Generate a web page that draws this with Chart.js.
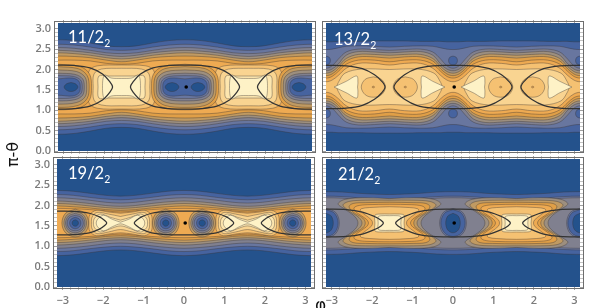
<!DOCTYPE html>
<html>
<head>
<meta charset="utf-8">
<script src="https://cdn.jsdelivr.net/npm/chart.js@4"></script>
<style>
  html, body { margin: 0; padding: 0; background: #fff; overflow: hidden; }
  body { position: relative; width: 598px; height: 308px; }
  canvas { position: absolute; filter: blur(0.35px); }
  .tag { position: absolute; color: #fff; font: 16.5px Lato, sans-serif; line-height: 20px; }
  .tag sub { font-size: 10.5px; line-height: 0; }
  .axisName { position: absolute; color: #111; font-family: "DejaVu Sans", sans-serif; white-space: nowrap; }
</style>
</head>
<body>
<canvas id="p1"></canvas>
<canvas id="p2"></canvas>
<canvas id="p3"></canvas>
<canvas id="p4"></canvas>
<div class="tag" style="left:68px;top:27px">11/2<sub>2</sub></div>
<div class="tag" style="left:334px;top:29px">13/2<sub>2</sub></div>
<div class="tag" style="left:68px;top:163px">19/2<sub>2</sub></div>
<div class="tag" style="left:338px;top:164px">21/2<sub>2</sub></div>
<div class="axisName" style="left:0px;top:145px;font-size:16px;transform:rotate(-90deg)">π-θ</div>
<div class="axisName" style="left:315px;top:295px;font-size:17px">φ</div>
<script>
"use strict";

const PI = Math.PI;
const MID = 1.57;

// ---------- Axes ----------
const xTickLabels = [-3, -2, -1, 0, 1, 2, 3];
const yTickLabels = [0, 0.5, 1, 1.5, 2, 2.5, 3];

// ---------- Contour levels, low to high ----------
const levelColors = ["#24528c", "#46639f", "#68769f", "#80808f", "#9d8f7f", "#c09a62",
  "#e09f47", "#eeaa52", "#f5c172", "#f9d491", "#fde6ae", "#fef2c6"];

// phi positions for the bands (from 0 to pi/2) and height above mid line at each
const bandStops = [0, 0.4, 0.8, 1.2, 1.57];
const neckStops = [0, 0.15, 0.3, 0.5, 0.8, 1.2, 1.57];

const zeroAndPi = [-PI, 0, PI];
const halfPi = [-PI / 2, PI / 2];

// ---------- 11/2 ----------
const p1Bands = [
  { level: 1, h: [1.16, 1.14, 1.08, 1.01, 0.99] },
  { level: 2, h: [1.05, 1.03, 0.98, 0.92, 0.90] },
  { level: 3, h: [0.97, 0.95, 0.90, 0.84, 0.82] },
  { level: 4, h: [0.90, 0.88, 0.84, 0.78, 0.75] },
  { level: 5, h: [0.84, 0.82, 0.78, 0.72, 0.69] },
  { level: 6, h: [0.76, 0.75, 0.72, 0.66, 0.62] },
  { level: 7, h: [0.66, 0.66, 0.64, 0.58, 0.56] }
];
const p1Lobes = [
  { level: 8, arc: [[0, 0.54], [0.6, 0.52], [0.8, 0.40], [0.84, 0]] },
  { level: 9, arc: [[0, 0.46], [0.5, 0.44], [0.68, 0.32], [0.70, 0]] },
  { level: 10, arc: [[0, 0.27], [0.35, 0.27], [0.56, 0.27], [0.58, 0]] },
  { level: 11, arc: [[0, 0.21], [0.25, 0.22], [0.42, 0.29], [0.47, 0]] }
];
const p1Holes = [
  { level: 6, arc: [[0, 0.56], [0.55, 0.50], [0.78, 0.32], [0.83, 0]] },
  { level: 5, arc: [[0, 0.50], [0.50, 0.45], [0.72, 0.28], [0.77, 0]] },
  { level: 4, arc: [[0, 0.42], [0.46, 0.38], [0.67, 0.24], [0.71, 0]] },
  { level: 3, arc: [[0, 0.34], [0.42, 0.31], [0.61, 0.20], [0.65, 0]] },
  { level: 2, arc: [[0, 0.28], [0.38, 0.26], [0.56, 0.17], [0.60, 0]] },
  { level: 1, arc: [[0, 0.20], [0.36, 0.22], [0.52, 0.14], [0.55, 0]] }
];
const p1DipCenters = [-3.46, -2.82, -0.32, 0.32, 2.82, 3.46];
const p1Dips = [{ level: 0, arc: [[0, 0.11], [0.11, 0.08], [0.17, 0]] }];
const p1Ellipse = [[0, 0.54], [0.4, 0.53], [0.79, 0.47], [1.1, 0.32], [1.28, 0.13], [1.35, 0]];

// ---------- 13/2 ----------
const p2Bands = [
  { level: 1, h: [1.11, 1.11, 1.12, 1.12, 1.12, 1.13, 1.13] },
  { level: 2, h: [0.92, 0.93, 0.96, 1.0, 1.01, 1.0, 0.98] },
  { level: 3, h: [0.46, 0.52, 0.68, 0.86, 0.93, 0.92, 0.90] },
  { level: 4, h: [0.40, 0.44, 0.56, 0.78, 0.87, 0.86, 0.84] },
  { level: 5, h: [0.34, 0.38, 0.50, 0.70, 0.80, 0.80, 0.78] },
  { level: 6, h: [0.28, 0.32, 0.44, 0.64, 0.74, 0.74, 0.71] },
  { level: 7, h: [0.22, 0.26, 0.38, 0.56, 0.66, 0.66, 0.62] },
  { level: 8, h: [0.13, 0.17, 0.28, 0.46, 0.58, 0.58, 0.54] }
];
const p2Spots = [{ level: 1, arc: [[0, 0.11], [0.08, 0.08], [0.11, 0]] }];
const p2Lobes = [{ level: 9, arc: [[0, 0.43], [0.7, 0.44], [1.1, 0.34], [1.25, 0.14], [1.3, 0]] }];
const p2Rings = [
  { level: 8, arc: [[0, 0.25], [0.2, 0.19], [0.3, 0]] },
  { level: 7, arc: [[0, 0.02], [0.02, 0.015], [0.03, 0]] }
];
const p2RingCenters = [-1.97, -1.18, 1.18, 1.97];
const p2TriangleCenters = [[0, 1], [0, -1], [PI, -1], [-PI, 1]];
const p2Triangles = [
  { level: 11, path: [[0.2, 0], [0.5, 0.14], [0.76, 0.27], [0.79, 0.1], [0.78, 0]] }
];
const p2Ellipse = [[0, 0.53], [0.5, 0.52], [0.9, 0.45], [1.2, 0.30], [1.38, 0.14], [1.46, 0]];

// ---------- 19/2 ----------
const p3Bands = [
  { level: 1, h: [0.80, 0.78, 0.73, 0.68, 0.66] },
  { level: 2, h: [0.70, 0.68, 0.63, 0.59, 0.57] },
  { level: 3, h: [0.62, 0.60, 0.56, 0.51, 0.49] },
  { level: 4, h: [0.54, 0.52, 0.48, 0.43, 0.41] },
  { level: 5, h: [0.48, 0.46, 0.42, 0.38, 0.36] },
  { level: 6, h: [0.42, 0.40, 0.37, 0.33, 0.31] },
  { level: 7, h: [0.36, 0.35, 0.33, 0.30, 0.27] }
];
const p3Lobes = [
  { level: 8, arc: [[0, 0.24], [0.3, 0.27], [0.6, 0.31], [0.76, 0.2], [0.78, 0]] },
  { level: 9, arc: [[0, 0.16], [0.3, 0.22], [0.58, 0.26], [0.7, 0.15], [0.72, 0]] },
  { level: 10, arc: [[0, 0.07], [0.25, 0.14], [0.5, 0.22], [0.64, 0.12], [0.67, 0]] },
  { level: 11, arc: [[0, 0.02], [0.2, 0.09], [0.42, 0.19], [0.56, 0.1], [0.6, 0]] }
];
const p3HoleCenters = [-3.59, -2.69, -0.45, 0.45, 2.69, 3.59];
const p3Holes = [
  { level: 5, arc: [[0, 0.34], [0.24, 0.24], [0.33, 0]] },
  { level: 4, arc: [[0, 0.29], [0.2, 0.2], [0.28, 0]] },
  { level: 3, arc: [[0, 0.24], [0.17, 0.17], [0.24, 0]] },
  { level: 2, arc: [[0, 0.19], [0.14, 0.14], [0.2, 0]] },
  { level: 1, arc: [[0, 0.14], [0.1, 0.1], [0.14, 0]] },
  { level: 0, arc: [[0, 0.08], [0.055, 0.055], [0.08, 0]] }
];
const p3Ellipse = [[0, 0.29], [0.4, 0.285], [0.8, 0.24], [1.05, 0.15], [1.18, 0.06], [1.23, 0]];

// ---------- 21/2 ----------
const p4Bands = [
  { level: 1, h: [0.77, 0.76, 0.73, 0.71, 0.70] },
  { level: 2, h: [0.66, 0.65, 0.62, 0.60, 0.60] },
  { level: 3, h: [0.62, 0.61, 0.58, 0.56, 0.56] }
];
const p4Lobes = [
  { level: 4, arc: [[0, 0.60], [0.6, 0.62], [1.1, 0.58], [1.27, 0.47], [1.1, 0.34], [0.85, 0.15], [0.78, 0]] },
  { level: 5, arc: [[0, 0.56], [0.6, 0.56], [1.0, 0.53], [1.15, 0.44], [1.0, 0.30], [0.75, 0.13], [0.68, 0]] },
  { level: 6, arc: [[0, 0.51], [0.6, 0.50], [0.9, 0.48], [1.0, 0.40], [0.9, 0.27], [0.66, 0.12], [0.6, 0]] },
  { level: 7, arc: [[0, 0.46], [0.55, 0.45], [0.8, 0.42], [0.88, 0.36], [0.8, 0.25], [0.58, 0.1], [0.52, 0]] },
  { level: 8, arc: [[0, 0.40], [0.5, 0.38], [0.7, 0.35], [0.72, 0.3], [0.6, 0.2], [0.45, 0.08], [0.42, 0]] },
  { level: 10, arc: [[0, 0.22], [0.25, 0.22], [0.36, 0.19], [0.36, 0]] },
  { level: 11, arc: [[0, 0.18], [0.2, 0.18], [0.28, 0.15], [0.28, 0]] }
];
const p4Holes = [
  { level: 2, arc: [[0, 0.36], [0.24, 0.26], [0.33, 0]] },
  { level: 1, arc: [[0, 0.33], [0.21, 0.24], [0.3, 0]] },
  { level: 0, arc: [[0, 0.24], [0.13, 0.17], [0.18, 0]] }
];
const p4Ellipse = [[0, 0.34], [0.5, 0.33], [0.9, 0.27], [1.2, 0.16], [1.36, 0.07], [1.42, 0]];

// ---------- Shapes from the read values ----------
function bandPoints(stops, h) {
  const top = [];
  for (const c of zeroAndPi) {
    for (let i = stops.length - 1; i > 0; i--) top.push([c - stops[i], h[i]]);
    for (let i = 0; i < stops.length - 1; i++) top.push([c + stops[i], h[i]]);
  }
  top.push([PI + stops[stops.length - 1], h[h.length - 1]]);
  const upper = top.map(p => ({ x: p[0], y: MID + p[1] }));
  const lower = top.slice().reverse().map(p => ({ x: p[0], y: MID - p[1] }));
  return upper.concat(lower, [upper[0]]);
}

function ovalPoints(c, arc, rise) {
  const cy = MID + (rise || 0);
  const pts = arc.map(p => ({ x: c + p[0], y: cy + p[1] }));
  for (let i = arc.length - 2; i >= 0; i--) pts.push({ x: c + arc[i][0], y: cy - arc[i][1] });
  for (let i = 1; i < arc.length; i++) pts.push({ x: c - arc[i][0], y: cy - arc[i][1] });
  for (let i = arc.length - 2; i >= 0; i--) pts.push({ x: c - arc[i][0], y: cy + arc[i][1] });
  return pts;
}

function halfPoints(c, dir, path) {
  const pts = path.map(p => ({ x: c + dir * p[0], y: MID + p[1] }));
  for (let i = path.length - 2; i >= 0; i--) pts.push({ x: c + dir * path[i][0], y: MID - path[i][1] });
  return pts;
}

function fillSet(level, pts) {
  return {
    data: pts,
    showLine: true,
    fill: "shape",
    backgroundColor: levelColors[level],
    borderColor: "rgba(55,50,50,0.55)",
    borderWidth: 0.7,
    tension: 0.35,
    pointRadius: 0
  };
}

function curveSet(pts) {
  return {
    data: pts,
    showLine: true,
    fill: false,
    borderColor: "#333",
    borderWidth: 1.25,
    tension: 0.35,
    pointRadius: 0
  };
}

function backdrop() {
  return fillSet(0, [{ x: -4, y: -1 }, { x: 4, y: -1 }, { x: 4, y: 4 }, { x: -4, y: 4 }, { x: -4, y: -1 }]);
}

function bandSets(stops, bands) {
  return bands.map(b => fillSet(b.level, bandPoints(stops, b.h)));
}

function ovalSets(centers, shapes, rise) {
  const sets = [];
  for (const s of shapes) {
    for (const c of centers) {
      sets.push(fillSet(s.level, ovalPoints(c, s.arc, rise)));
    }
  }
  return sets;
}

function ellipseSets(arc) {
  return zeroAndPi.map(c => curveSet(ovalPoints(c, arc)));
}

function markerSet() {
  return { data: [{ x: 0.03, y: MID }], backgroundColor: "#000", borderWidth: 0, pointRadius: 1.8 };
}

// ---------- Chart ----------
const framePlugin = {
  id: "frame",
  afterDraw(chart) {
    const a = chart.chartArea;
    const ctx = chart.ctx;
    ctx.save();
    ctx.strokeStyle = "#6e6e6e";
    ctx.lineWidth = 1;
    ctx.strokeRect(a.left - 3.5, a.top - 1.5, a.right - a.left + 7, a.bottom - a.top + 3);
    ctx.restore();
  }
};

function minorTicks(labels, step) {
  const out = [];
  const first = labels[0];
  const count = Math.round((labels[labels.length - 1] - first) / step);
  for (let i = 0; i <= count; i++) out.push({ value: +(first + i * step).toFixed(2) });
  return out;
}

function axis(position, labels, step, min, max, showLabels, size) {
  const horizontal = position === "top" || position === "bottom";
  return {
    type: "linear",
    position,
    min,
    max,
    afterBuildTicks: s => { s.ticks = minorTicks(labels, step); },
    afterFit: s => {
      if (horizontal) s.height = size; else s.width = size;
      s.paddingTop = s.paddingBottom = s.paddingLeft = s.paddingRight = 0;
    },
    border: { display: false },
    grid: {
      drawOnChartArea: false,
      tickLength: 3,
      tickWidth: 0.7,
      tickColor: c => labels.includes(c.tick.value) ? "#777" : "#aaa"
    },
    ticks: {
      display: showLabels,
      autoSkip: false,
      maxRotation: 0,
      padding: 4,
      color: "#7b7b7b",
      font: { family: "Open Sans", size: 11, weight: "600" },
      callback: v => {
        if (!labels.includes(v)) return "";
        if (horizontal) return v < 0 ? "\u2212" + Math.abs(v) : String(v);
        return v.toFixed(1);
      }
    }
  };
}

function drawPanel(id, box, datasets, labelsLeft, bottomSize) {
  const canvas = document.getElementById(id);
  canvas.style.left = box.left + "px";
  canvas.style.top = box.top + "px";
  canvas.style.width = box.width + "px";
  canvas.style.height = box.height + "px";
  canvas.width = box.width;
  canvas.height = box.height;
  datasets.forEach((d, i) => { d.order = datasets.length - i; });
  return new Chart(canvas, {
    type: "scatter",
    data: { datasets },
    plugins: [framePlugin],
    options: {
      responsive: false,
      animation: false,
      events: [],
      layout: { padding: 0 },
      plugins: { legend: { display: false }, tooltip: { enabled: false } },
      scales: {
        x: axis("bottom", xTickLabels, 0.2, -PI, PI, bottomSize > 10, bottomSize),
        x2: axis("top", xTickLabels, 0.2, -PI, PI, false, 4),
        y: axis("left", yTickLabels, 0.1, 0, PI, labelsLeft, labelsLeft ? 38 : 4),
        y2: axis("right", yTickLabels, 0.1, 0, PI, false, 4)
      }
    }
  });
}

drawPanel("p1", { left: 20, top: 19, width: 296, height: 140 }, [
  backdrop(),
  ...bandSets(bandStops, p1Bands),
  ...ovalSets(halfPi, p1Lobes),
  ...ovalSets(zeroAndPi, p1Holes),
  ...ovalSets(p1DipCenters, p1Dips),
  ...ellipseSets(p1Ellipse),
  markerSet()
], true, 8);

drawPanel("p2", { left: 322, top: 19, width: 262, height: 136 }, [
  backdrop(),
  ...bandSets(neckStops, p2Bands),
  ...ovalSets(zeroAndPi, p2Spots, 0.65),
  ...ovalSets(zeroAndPi, p2Spots, -0.65),
  ...ovalSets(halfPi, p2Lobes),
  ...ovalSets(p2RingCenters, p2Rings),
  ...p2Triangles.flatMap(t => p2TriangleCenters.map(c => fillSet(t.level, halfPoints(c[0], c[1], t.path)))),
  ...ellipseSets(p2Ellipse),
  markerSet()
], false, 4);

drawPanel("p3", { left: 19, top: 155, width: 296, height: 153 }, [
  backdrop(),
  ...bandSets(bandStops, p3Bands),
  ...ovalSets(halfPi, p3Lobes),
  ...ovalSets(p3HoleCenters, p3Holes),
  ...ellipseSets(p3Ellipse),
  markerSet()
], true, 21);

drawPanel("p4", { left: 322, top: 155, width: 262, height: 153 }, [
  backdrop(),
  ...bandSets(bandStops, p4Bands),
  ...ovalSets(halfPi, p4Lobes),
  ...ovalSets(zeroAndPi, p4Holes),
  ...ellipseSets(p4Ellipse),
  markerSet()
], false, 21);
</script>
</body>
</html>
